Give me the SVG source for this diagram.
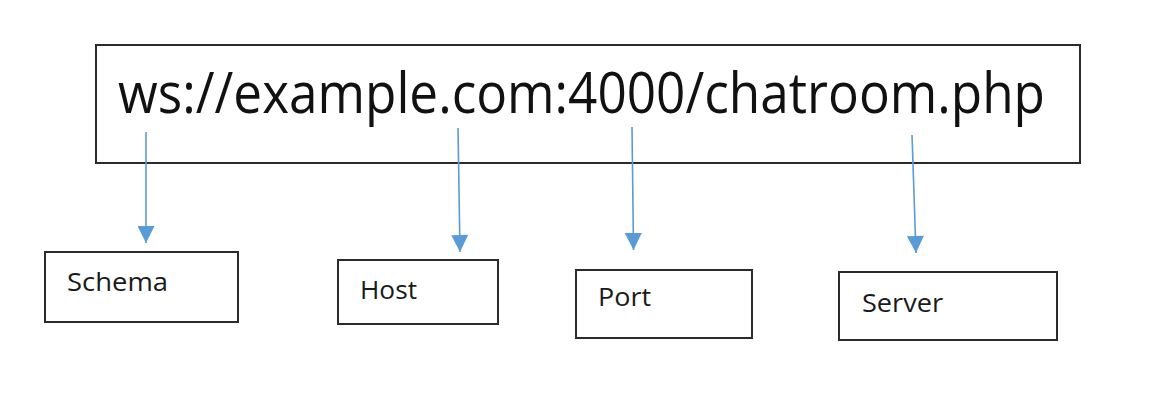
<svg xmlns="http://www.w3.org/2000/svg" width="1166" height="404" viewBox="0 0 1166 404">
<style>
.box{fill:#fff;stroke:#2b2b2b;stroke-width:2}
.lbl{font-family:"Open Sans","Liberation Sans",sans-serif;font-size:25px;fill:#1a1a1a}
.url{font-family:"Open Sans","Liberation Sans",sans-serif;font-size:56px;fill:#111}
.conn{stroke:#5b9bd5;stroke-width:1.6;fill:none}
</style>
<defs>
<marker id="ah" viewBox="0 0 10 10" refX="10" refY="5" markerUnits="userSpaceOnUse" markerWidth="18" markerHeight="17" orient="auto">
<path d="M0,0 L10,5 L0,10 Z" fill="#5b9bd5"/>
</marker>
</defs>
<rect width="1166" height="404" fill="#fff"/>
<g id="url-node">
<rect class="box" x="96" y="45" width="984" height="118"/>
<text class="url" x="118" y="113" textLength="927" lengthAdjust="spacingAndGlyphs">ws://example.com:4000/chatroom.php</text>
</g>
<g id="schema-node">
<rect class="box" x="45" y="252" width="193" height="70"/>
<text class="lbl" x="67" y="291" textLength="101" lengthAdjust="spacingAndGlyphs">Schema</text>
</g>
<g id="host-node">
<rect class="box" x="338" y="260" width="160" height="64"/>
<text class="lbl" x="360" y="299" textLength="57" lengthAdjust="spacingAndGlyphs">Host</text>
</g>
<g id="port-node">
<rect class="box" x="576" y="270" width="176" height="68"/>
<text class="lbl" x="598" y="306" textLength="53" lengthAdjust="spacingAndGlyphs">Port</text>
</g>
<g id="server-node">
<rect class="box" x="839" y="272" width="218" height="68"/>
<text class="lbl" x="862" y="312" textLength="81" lengthAdjust="spacingAndGlyphs">Server</text>
</g>
<g id="connectors">
<line class="conn" x1="146" y1="132" x2="146" y2="243" marker-end="url(#ah)"/>
<line class="conn" x1="458" y1="128" x2="460" y2="252" marker-end="url(#ah)"/>
<line class="conn" x1="632" y1="127" x2="633.5" y2="250" marker-end="url(#ah)"/>
<line class="conn" x1="912" y1="135" x2="916" y2="253" marker-end="url(#ah)"/>
</g>
</svg>
